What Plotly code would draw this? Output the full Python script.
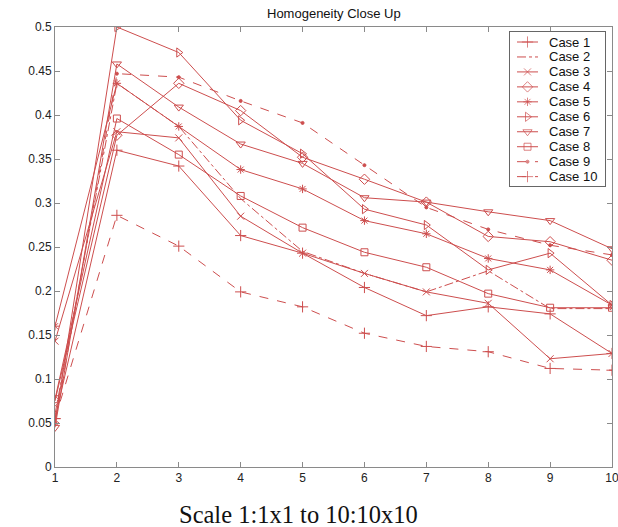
import plotly.graph_objects as go

# ---------------- data ----------------
x_vals = [1, 2, 3, 4, 5, 6, 7, 8, 9, 10]
x_ticks = [1, 2, 3, 4, 5, 6, 7, 8, 9, 10]
y_ticks = [0, 0.05, 0.1, 0.15, 0.2, 0.25, 0.3, 0.35, 0.4, 0.45, 0.5]
y_tick_labels = ["0", "0.05", "0.1", "0.15", "0.2", "0.25", "0.3", "0.35", "0.4", "0.45", "0.5"]
case_names = ["Case 1", "Case 2", "Case 3", "Case 4", "Case 5",
              "Case 6", "Case 7", "Case 8", "Case 9", "Case 10"]

case1 = [0.055, 0.360, 0.342, 0.263, 0.243, 0.204, 0.172, 0.182, 0.174, 0.129]
case2 = [0.060, 0.436, 0.387, 0.305, 0.245, 0.220, 0.199, 0.223, 0.180, 0.180]
case3 = [0.143, 0.381, 0.374, 0.285, 0.243, 0.220, 0.199, 0.186, 0.123, 0.129]
case4 = [0.075, 0.377, 0.436, 0.405, 0.352, 0.327, 0.301, 0.262, 0.256, 0.235]
case5 = [0.160, 0.436, 0.387, 0.338, 0.316, 0.280, 0.265, 0.237, 0.224, 0.184]
case6 = [0.050, 0.500, 0.471, 0.394, 0.356, 0.293, 0.275, 0.224, 0.243, 0.184]
case7 = [0.045, 0.458, 0.409, 0.367, 0.345, 0.306, 0.301, 0.290, 0.280, 0.248]
case8 = [0.077, 0.396, 0.355, 0.308, 0.272, 0.244, 0.227, 0.197, 0.181, 0.181]
case9 = [0.050, 0.447, 0.443, 0.416, 0.391, 0.343, 0.295, 0.270, 0.252, 0.241]
case10 = [0.055, 0.286, 0.251, 0.199, 0.182, 0.152, 0.137, 0.131, 0.112, 0.110]

series = [case1, case2, case3, case4, case5, case6, case7, case8, case9, case10]

# ---------------- styles ----------------
COLOR = "rgb(205,78,78)"
AXIS = "#8a8a8a"
FONT = "Arial, Liberation Sans, Helvetica, sans-serif"

styles = [
    dict(dash="solid", symbol="cross-thin-open", size=8),
    dict(dash="dashdot", symbol=None, size=0),
    dict(dash="solid", symbol="x-thin-open", size=7),
    dict(dash="solid", symbol="diamond-open", size=8),
    dict(dash="solid", symbol="asterisk-open", size=7),
    dict(dash="solid", symbol="triangle-right-open", size=8),
    dict(dash="solid", symbol="triangle-down-open", size=8),
    dict(dash="solid", symbol="square-open", size=7),
    dict(dash="dash", symbol="circle", size=3),
    dict(dash="dash", symbol="cross-thin-open", size=8),
]

def marker_for(st, size):
    if st["symbol"] is None:
        return dict(color=COLOR)
    return dict(symbol=st["symbol"], size=size, color=COLOR,
                line=dict(color=COLOR, width=1))

fig = go.Figure()
for name, vals, st in zip(case_names, series, styles):
    fig.add_trace(go.Scatter(
        x=x_vals, y=vals, name=name,
        mode="lines" if st["symbol"] is None else "lines+markers",
        line=dict(color=COLOR, width=1, dash=st["dash"]),
        marker=marker_for(st, st["size"]),
        showlegend=False, xaxis="x", yaxis="y",
    ))

# ---------------- legend (drawn in its own small box axes) ----------------
LEG_W, LEG_H = 95, 154
row0, row_step = 10, 14.96
for i, (name, st) in enumerate(zip(case_names, styles)):
    yy = row0 + i * row_step
    fig.add_trace(go.Scatter(
        x=[7, 17.5, 28], y=[yy, yy, yy],
        mode="lines" if st["symbol"] is None else "lines+markers",
        line=dict(color=COLOR, width=1, dash=st["dash"]),
        marker=marker_for(st, [0, st["size"], 0]),
        showlegend=False, hoverinfo="skip", xaxis="x2", yaxis="y2",
    ))
    fig.add_annotation(x=37, y=yy, xref="x2", yref="y2", text=name,
                       showarrow=False, xanchor="left", yanchor="middle",
                       font=dict(family=FONT, size=13, color="#111"))

L, R, T, B = 55, 6, 27, 60
W, H = 618, 527
pw, ph = W - L - R, H - T - B

def px_x(p):
    return (p - L) / pw

def px_y(p):
    return (H - B - p) / ph

fig.update_layout(
    width=W, height=H,
    margin=dict(l=L, r=R, t=T, b=B, pad=0, autoexpand=False),
    paper_bgcolor="white", plot_bgcolor="white",
    font=dict(family=FONT, size=12, color="#222"),
    xaxis=dict(range=[1, 10], tickvals=x_ticks, ticks="inside", ticklen=5,
               tickcolor=AXIS, showline=True, linecolor=AXIS, linewidth=1,
               mirror="ticks", showgrid=False, zeroline=False,
               ticklabeloverflow="allow", automargin=False,
               tickfont=dict(size=12, color="#222")),
    yaxis=dict(range=[0, 0.5], tickvals=y_ticks, ticktext=y_tick_labels,
               ticks="inside", ticklen=5, tickcolor=AXIS, showline=True,
               linecolor=AXIS, linewidth=1, mirror="ticks", showgrid=False,
               zeroline=False, ticklabeloverflow="allow", automargin=False,
               tickfont=dict(size=12, color="#222")),
    xaxis2=dict(domain=[px_x(510), px_x(605)], anchor="y2", range=[0, LEG_W],
                showline=True, linecolor="#666", linewidth=1, mirror=True,
                showticklabels=False, ticks="", showgrid=False, zeroline=False,
                fixedrange=True, automargin=False),
    yaxis2=dict(domain=[px_y(186), px_y(32)], anchor="x2", range=[LEG_H, 0],
                showline=True, linecolor="#666", linewidth=1, mirror=True,
                showticklabels=False, ticks="", showgrid=False, zeroline=False,
                fixedrange=True, automargin=False),
    showlegend=False,
)

fig.add_shape(type="rect", xref="paper", yref="paper",
              x0=px_x(510), x1=px_x(605), y0=px_y(186), y1=px_y(32),
              fillcolor="white", line=dict(width=0), layer="below")

fig.add_annotation(text="Homogeneity Close Up", xref="paper", yref="paper",
                   x=0.5, y=px_y(13), showarrow=False, xanchor="center",
                   yanchor="middle", font=dict(family=FONT, size=13, color="#111"))

fig.add_annotation(text="Scale 1:1x1 to 10:10x10", xref="paper", yref="paper",
                   x=px_x(298), y=px_y(514), showarrow=False, xanchor="center",
                   yanchor="middle",
                   font=dict(family="Liberation Serif, Times New Roman, serif",
                             size=24.5, color="#111"))

fig.write_html("out.html")
